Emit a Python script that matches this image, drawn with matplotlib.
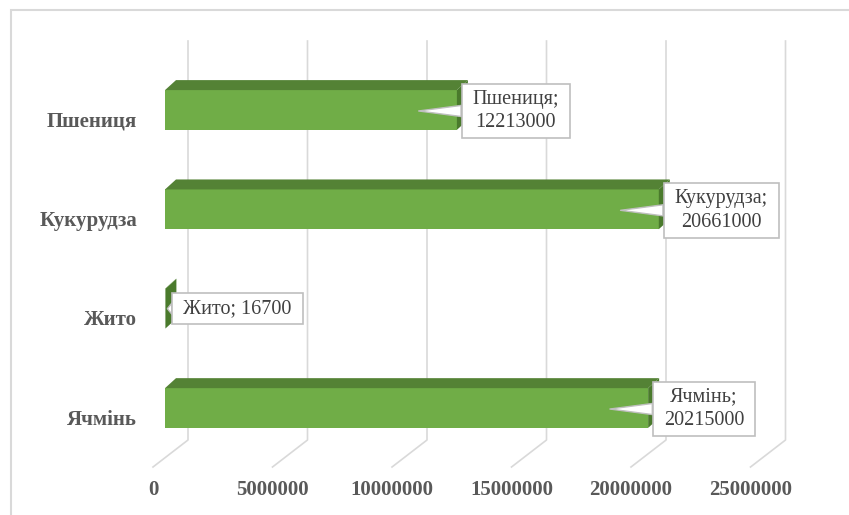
import numpy as np
import matplotlib.pyplot as plt
from matplotlib.patches import Polygon, Rectangle
from matplotlib.path import Path
from matplotlib.transforms import ScaledTranslation

# дані
categories = ["Ячмінь", "Жито", "Кукурудза", "Пшениця"]
values = [20215000, 16700, 20661000, 12213000]
xticks = [0, 5000000, 10000000, 15000000, 20000000, 25000000]

plt.rcParams['font.family'] = ['Liberation Serif', 'DejaVu Serif']

W, H = 849, 515
fig = plt.figure(figsize=(W / 100, H / 100), dpi=100)
L, R, T, B = 165, 762.5, 60.3, 457.7
ax = fig.add_axes([L / W, 1 - B / H, (R - L) / W, (B - T) / H])
ax.set_xlim(0, 25000000)
ax.set_ylim(-0.5, 3.5)
ppx = (R - L) / 25000000
ppy = (B - T) / 4


def dx(px):
    return px / ppx


def dy(px):
    return px / ppy


# рамка підпису: ширші поля по горизонталі
def label_box(x0, y0, width, height, mutation_size):
    px, py = 11, 6
    verts = [(x0 - px, y0 - py), (x0 + width + px, y0 - py),
             (x0 + width + px, y0 + height + py), (x0 - px, y0 + height + py),
             (x0 - px, y0 - py)]
    return Path(verts, closed=True)


grid_c = '#d9d9d9'
# сітка: задня стінка + підлога
for v in xticks:
    bx = v + dx(23)
    fx = v + dx(-12)
    ax.plot([bx, bx, fx], [3.5 + dy(19.3), -0.5 + dy(17.7), -0.5 + dy(-9.3)],
            color=grid_c, lw=1.2, clip_on=False, zorder=1)

# стовпці (псевдо-3D)
h = 0.4
ddx, ddy = dx(11), dy(10)
ax.barh(range(len(values)), values, height=h, color='#70AD47', zorder=3)
for i, v in enumerate(values):
    top = [(0, i + h / 2), (v, i + h / 2), (v + ddx, i + h / 2 + ddy), (ddx, i + h / 2 + ddy)]
    side = [(v, i - h / 2), (v, i + h / 2), (v + ddx, i + h / 2 + ddy), (v + ddx, i - h / 2 + ddy)]
    ax.add_patch(Polygon(top, closed=True, fc='#548235', ec='none', zorder=3))
    ax.add_patch(Polygon(side, closed=True, fc='#4a7a2c', ec='none', zorder=3))

# підписи даних
for i, (c, v) in enumerate(zip(categories, values)):
    if v > 1000000:
        tip = (v - 1600000, i - dy(1))
        off = (54, 0)
        txt = f"{c};\n{v}"
    else:
        tip = (v + dx(2), i)
        off = (16, 0)
        txt = f"{c}; {v}"
    ax.annotate(txt, xy=tip, xytext=off, textcoords='offset pixels',
                ha='left', va='center', multialignment='center', linespacing=1.35,
                fontsize=14.5, color='#404040', zorder=6,
                bbox=dict(boxstyle=label_box, fc='white', ec='#bfbfbf', lw=1.2),
                arrowprops=dict(arrowstyle='wedge,tail_width=0.55,shrink_factor=0.5',
                                fc='white', ec='#bfbfbf', lw=1.0, shrinkA=0, shrinkB=0))

# осі
ax.set_yticks(range(len(categories)))
ax.set_yticklabels(categories, fontsize=15, fontweight='bold', color='#595959')
ax.set_xticks(xticks)
ax.set_xticklabels([str(t) for t in xticks], fontsize=15, fontweight='bold', color='#595959')
ax.tick_params(axis='both', length=0)
ax.tick_params(axis='y', pad=20)
ax.tick_params(axis='x', pad=16)
for lbl in ax.get_yticklabels():
    lbl.set_transform(lbl.get_transform() + ScaledTranslation(0, -9 / 100, fig.dpi_scale_trans))
for lbl in ax.get_xticklabels():
    lbl.set_transform(lbl.get_transform() + ScaledTranslation(-12 / 100, 0, fig.dpi_scale_trans))
for s in ax.spines.values():
    s.set_visible(False)
ax.patch.set_alpha(0)

# рамка діаграми
fig.add_artist(Rectangle((11 / W, -0.1), 2, 1 - 10 / H + 0.1, transform=fig.transFigure,
                         fill=False, ec='#d9d9d9', lw=1.5))

fig.savefig('out.png', dpi=100)
